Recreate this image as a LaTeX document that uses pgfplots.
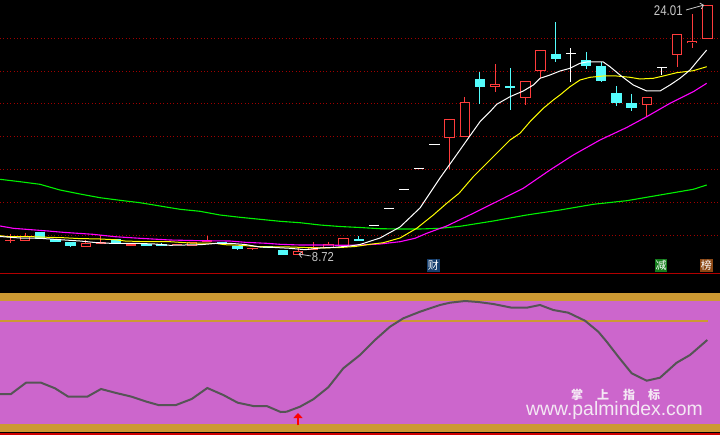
\documentclass[border=0pt]{standalone}
\usepackage{pgfplots}
\pgfplotsset{compat=1.18}
\usepackage{pgfplotstable}
\usetikzlibrary{arrows.meta}
\usepackage{fontspec}
\setmainfont{Liberation Sans}
\newfontfamily\cjk{Noto Sans CJK SC}

\definecolor{kred}{HTML}{FF3C3C}
\definecolor{kcyan}{HTML}{54FCFC}
\definecolor{mayel}{HTML}{FFFF00}
\definecolor{mamag}{HTML}{FF00FF}
\definecolor{magrn}{HTML}{00F000}
\definecolor{gridred}{HTML}{A00000}
\definecolor{panelpink}{HTML}{CC66CC}
\definecolor{gold}{HTML}{CC9933}
\definecolor{ind}{HTML}{555555}
\definecolor{lbl}{HTML}{C8C8C8}
\definecolor{washi}{HTML}{F4E8F4}

% candles in screen units: hi/lo = wick ends, bt/bb = body top/bottom
\pgfplotstableread{
i hi lo bt bb
0 234.3 243.0 239.5 240.7
1 232.5 240.7 235.5 240.7
5 240.3 246.7 243.3 246.7
6 235.0 243.7 242.3 243.7
8 244.0 246.0 244.0 246.0
11 243.5 245.0 243.5 245.0
12 242.0 245.7 242.0 245.7
13 235.7 242.3 240.3 242.3
16 247.7 250.0 247.7 249.0
19 247.0 254.7 250.7 254.7
20 242.0 250.0 247.0 250.0
21 241.8 247.5 244.2 247.5
22 238.0 246.0 238.0 246.0
29 119.0 169.3 119.0 138.0
30 97.0 137.0 102.3 136.7
32 64.3 92.3 84.3 87.3
34 81.3 105.3 81.3 98.3
35 50.3 78.0 50.3 71.3
42 97.3 117.3 97.3 105.3
44 34.3 66.7 34.3 55.3
45 14.0 47.7 41.0 43.3
46 5.0 38.7 5.0 38.7
}\redk

\pgfplotstableread{
i hi lo bt bb
-1 236.5 239.0 236.5 239.0
2 232.0 238.5 232.0 238.5
3 239.0 241.7 239.0 241.7
4 242.2 246.8 242.2 246.0
7 239.2 244.3 239.2 243.0
9 243.5 246.0 243.5 246.0
10 243.0 246.3 244.3 246.3
14 241.7 244.3 241.7 244.3
15 246.0 249.7 246.0 248.8
17 246.0 247.8 246.0 247.8
18 250.0 255.0 250.0 255.0
23 236.0 241.0 239.0 241.0
31 72.3 104.3 79.0 86.7
33 68.0 109.7 86.4 87.6
36 22.2 62.5 54.0 58.7
38 52.0 69.3 60.3 66.3
39 61.7 81.7 66.0 80.7
40 86.0 106.0 93.0 102.7
41 94.0 110.7 103.3 107.7
}\cyank

\pgfplotstableread{
i hi lo bt bb
24 225.3 225.3 224.7 225.9
25 208.3 208.3 207.7 208.9
26 189.3 189.3 188.7 189.9
27 168.3 168.3 167.7 168.9
28 144.3 144.3 143.7 144.9
37 48.3 81.7 53.2 54.4
43 67.3 74.7 66.7 67.9
}\whitek

\pgfplotsset{
  wick/.style={draw=none, mark=none, error bars/.cd, y dir=plus, y explicit,
    error mark=none, error bar style={line width=1bp, draw=#1}},
  body/.style 2 args={draw=none, mark=none, error bars/.cd, y dir=plus, y explicit,
    error mark=none, error bar style={line width=#2, draw=#1}},
  gridln/.style={gridred, line width=1bp, dash pattern=on 1bp off 2.4bp},
}

\begin{document}
\begin{tikzpicture}
\fill[black] (0,0) rectangle (720bp,435bp);
\begin{axis}[
    width=720bp, height=435bp, scale only axis,
    xmin=0, xmax=720, ymin=0, ymax=435, y dir=reverse,
    hide axis,
]

% lower panel background
\addplot[fill=gold, draw=none] coordinates {(0,293) (720,293) (720,301) (0,301)} --cycle;
\addplot[fill=panelpink, draw=none] coordinates {(0,301) (720,301) (720,423.7) (0,423.7)} --cycle;
\addplot[fill=gold, draw=none] coordinates {(0,423.7) (720,423.7) (720,431.7) (0,431.7)} --cycle;
\addplot[fill=red!80!black, draw=none] coordinates {(0,433.3) (720,433.3) (720,435) (0,435)} --cycle;
\addplot[gold, line width=1.7bp] coordinates {(0,321) (708,321)};

% main panel grid and border
\addplot[gridln] coordinates {(0,38.3) (720,38.3)};
\addplot[gridln] coordinates {(0,71.2) (720,71.2)};
\addplot[gridln] coordinates {(0,104.0) (720,104.0)};
\addplot[gridln] coordinates {(0,136.9) (720,136.9)};
\addplot[gridln] coordinates {(0,169.8) (720,169.8)};
\addplot[gridln] coordinates {(0,202.7) (720,202.7)};
\addplot[gridln] coordinates {(0,235.5) (720,235.5)};
\addplot[red!70!black, line width=1.2bp] coordinates {(0,273.3) (720,273.3)};

% candles
\addplot[wick=kred] table[x expr=10+15.16*\thisrow{i}, y=hi, y error plus expr=\thisrow{lo}-\thisrow{hi}] {\redk};
\addplot[body={kred}{10.3bp}] table[x expr=10+15.16*\thisrow{i}, y=bt, y error plus expr=\thisrow{bb}-\thisrow{bt}] {\redk};
\addplot[body={black}{8.3bp}] table[x expr=10+15.16*\thisrow{i}, y expr=\thisrow{bt}+1, y error plus expr={max(\thisrow{bb}-\thisrow{bt}-2,0)}] {\redk};
\addplot[wick=kcyan] table[x expr=10+15.16*\thisrow{i}, y=hi, y error plus expr=\thisrow{lo}-\thisrow{hi}] {\cyank};
\addplot[body={kcyan}{10.3bp}] table[x expr=10+15.16*\thisrow{i}, y=bt, y error plus expr=\thisrow{bb}-\thisrow{bt}] {\cyank};
\addplot[wick=white] table[x expr=10+15.16*\thisrow{i}, y=hi, y error plus expr=\thisrow{lo}-\thisrow{hi}] {\whitek};
\addplot[body={white}{10.3bp}] table[x expr=10+15.16*\thisrow{i}, y=bt, y error plus expr=\thisrow{bb}-\thisrow{bt}] {\whitek};

% moving averages
\addplot[magrn, line width=1.1bp] coordinates {
(0,179.3) (20,181.7) (40,184.3) (60,190) (80,194) (100,197.7) (120,200.3) (140,202.7)
(160,206) (180,209.3) (200,211.3) (220,215) (240,217.3) (260,219.3) (280,221.3) (300,222.7)
(320,225) (340,226.5) (360,227.5) (380,228.7) (400,229) (420,229) (440,228.3) (460,226.3)
(493.3,221) (526.7,215) (560,210) (593.3,204.3) (626.7,200.7) (660,195) (693.3,189.3) (706.7,185)};
\addplot[mamag, line width=1.1bp] coordinates {
(0,226) (13.3,228.3) (35,230) (48,231) (63,232.3) (78,233.3) (93,234.3) (115,236.7)
(140,238.3) (170,240) (200,240.7) (230,241) (245,242.3) (266.7,243.3) (280,244.3) (300,245)
(320,245) (343,245.3) (360,245) (380,244) (400,241.7) (415,238.3) (426.7,233.3) (446.7,226)
(473.3,213.3) (500,200) (523.3,188.3) (550,170) (573.3,155) (600,140) (626.7,127.5)
(646.7,116.7) (670,103.3) (693.3,91.7) (706.7,83.3)};
\addplot[mayel, line width=1bp] coordinates {
(0,235.7) (7,236.5) (33,236.7) (48,237.3) (63,237.7) (78,238.5) (100,239) (115,239.7)
(125,241) (140,241.5) (170,241.7) (190,243) (215,243.3) (225,244.7) (240,245.3) (260,246.7)
(290,247) (320,248) (340,247.5) (355,246.5) (370,244.3) (383.3,242.7) (400,238) (416.7,228.3)
(433.3,215) (446.7,203.3) (459,193.3) (473.3,176.7) (493.3,156.7) (510,140) (520,133.3)
(530,121.7) (543.3,108.3) (553.3,100) (560,95) (570,86.7) (580,80) (590,77.3) (603.3,76)
(616.7,76) (630,77.3) (640,79) (653.3,78.3) (663.3,76) (676.7,72.7) (693.3,70.7) (706.7,66.7)};
\addplot[white, line width=1bp] coordinates {
(0,236.5) (20,238) (40,238.3) (50,239) (65,240) (80,241) (95,242.5) (110,243.3) (125,243.3)
(140,243.5) (155,244) (170,245.3) (185,245) (200,244.7) (215,243.5) (230,243.3) (245,244.5)
(260,247) (275,247.5) (290,248.3) (305,249.7) (320,248) (335,247.3) (350,246) (360,244.5)
(380,238) (400,227) (420,208) (440,178) (455,157) (467,140) (480,121.7) (490,111.7)
(496.7,104.3) (510,96.7) (523.3,91) (533.3,85) (540,78.3) (550,75) (560,71) (570,68.3)
(580,63.3) (586.7,62) (603.3,62) (610,66.7) (620,75) (633.3,85) (646.7,91) (660,91) (670,85)
(680,78.3) (690,70) (698.3,60) (706.7,50)};

% oscillator
\addplot[ind, line width=2bp] coordinates {
(0,394) (11,394) (26,382.7) (41,382.7) (55,388.3) (68.3,396.7) (87.3,396.7) (101,389)
(115,392.7) (131.7,396.7) (146.7,401.7) (158.3,405) (176,405) (191.7,399) (207.3,388)
(223.3,395) (237.7,402.7) (253.3,406) (266.7,406) (280.7,412) (286.7,411.7) (300,406.7)
(313.3,399.3) (328.3,387.3) (343.3,368.3) (360,355) (375,340) (390,326.7) (403.3,318.3)
(420,311.7) (440,305) (450,302.7) (465,301) (478.3,302) (493.3,304) (511.7,307.7)
(526.7,307.7) (540,305) (553.3,310) (568.3,312.7) (585,320.7) (598.3,331.7) (606.7,341.7)
(618.3,356.7) (631.7,373.3) (646.7,380.7) (660,377.7) (676.7,362.7) (690,355) (707.3,340)};
\addplot[red, line width=2bp, -{Triangle[width=9bp,length=5bp]}] coordinates {(298,425) (298,413)};

% labels
\node[lbl, xscale=0.82, font=\fontsize{14bp}{14bp}\selectfont] at (axis cs:668.3,10.3) {24.01};
\draw[lbl, line width=0.8bp, -{Straight Barb[length=3bp]}] (axis cs:686,10) -- (axis cs:704,5);
\node[lbl, xscale=0.87, font=\fontsize{13bp}{13bp}\selectfont] at (axis cs:323,257.2) {8.72};
\draw[lbl, line width=0.8bp, -{Straight Barb[length=3bp]}] (axis cs:311,256) -- (axis cs:298.5,254);

\node[fill={rgb,255:red,22;green,62;blue,108}, text=white, minimum width=13.3bp, minimum height=12.7bp, inner sep=0pt, font=\cjk\fontsize{11bp}{11bp}\selectfont] at (axis cs:433.3,265.3) {财};
\node[fill={rgb,255:red,20;green,125;blue,28}, text=white, minimum width=12.5bp, minimum height=12.7bp, inner sep=0pt, font=\cjk\fontsize{11bp}{11bp}\selectfont] at (axis cs:661.2,265.5) {减};
\node[fill={rgb,255:red,140;green,72;blue,20}, text=white, minimum width=12.7bp, minimum height=12.7bp, inner sep=0pt, font=\cjk\fontsize{11bp}{11bp}\selectfont] at (axis cs:706.3,265.5) {榜};

\node[washi, inner sep=0pt, font=\cjk\bfseries\fontsize{12bp}{12bp}\selectfont] at (axis cs:577,395) {掌};
\node[washi, inner sep=0pt, font=\cjk\bfseries\fontsize{12bp}{12bp}\selectfont] at (axis cs:603,395) {上};
\node[washi, inner sep=0pt, font=\cjk\bfseries\fontsize{12bp}{12bp}\selectfont] at (axis cs:629,395) {指};
\node[washi, inner sep=0pt, font=\cjk\bfseries\fontsize{12bp}{12bp}\selectfont] at (axis cs:654,395) {标};
\node[washi, inner sep=0pt, font=\fontsize{19.4bp}{19.4bp}\selectfont] at (axis cs:614.5,410.8) {www.palmindex.com};
\end{axis}
\end{tikzpicture}
\end{document}
